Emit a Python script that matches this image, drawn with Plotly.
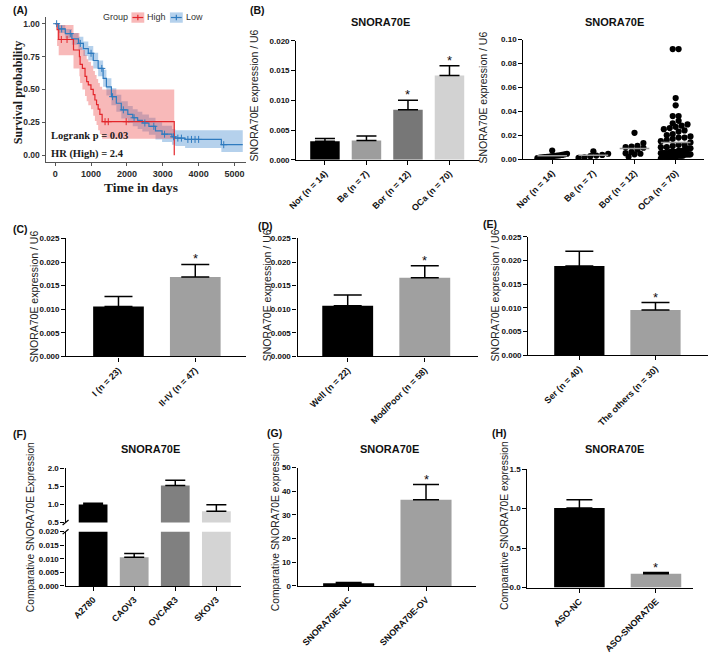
import plotly.graph_objects as go
import numpy as np

W, H = 709, 654
SANS = "Arial, Liberation Sans, Helvetica, sans-serif"
SERIF = "Times New Roman, Liberation Serif, serif"


def X(px):
    return px / W


def Y(py):
    return 1 - py / H


# ---------------- Panel A: Kaplan-Meier ----------------
high_t = [0, 52, 97, 510, 675, 694, 758, 832, 878, 923, 997, 1061, 1107, 1153, 1198, 1245, 1309, 3320]
high_s = [1.0, 0.955, 0.88, 0.80, 0.75, 0.69, 0.66, 0.60, 0.56, 0.535, 0.50, 0.46, 0.42, 0.385, 0.35, 0.31, 0.255, 0.0]
high_up = [1.0, 1.0, 0.99, 0.93, 0.88, 0.82, 0.80, 0.76, 0.73, 0.71, 0.68, 0.64, 0.61, 0.58, 0.55, 0.52, 0.50, 0.50]
high_lo = [1.0, 0.83, 0.76, 0.66, 0.60, 0.55, 0.50, 0.45, 0.41, 0.38, 0.35, 0.30, 0.26, 0.23, 0.19, 0.16, 0.125, 0.125]
high_cens_t = [170, 330, 1390, 1480, 1980]

low_t = [0, 97, 281, 465, 648, 785, 923, 1061, 1198, 1336, 1428, 1567, 1705, 1843, 2025, 2163, 2300, 2430,
         2614, 2797, 2981, 3256, 3348, 3623, 4634, 5231]
low_s = [1.0, 0.96, 0.925, 0.885, 0.85, 0.81, 0.775, 0.72, 0.66, 0.585, 0.52, 0.445, 0.395, 0.345, 0.31, 0.285,
         0.265, 0.245, 0.22, 0.185, 0.16, 0.14, 0.13, 0.12, 0.08, 0.08]
low_up = [1.0, 0.99, 0.96, 0.93, 0.90, 0.865, 0.83, 0.78, 0.72, 0.65, 0.585, 0.51, 0.46, 0.41, 0.375, 0.35, 0.33,
          0.31, 0.285, 0.25, 0.225, 0.20, 0.19, 0.19, 0.19, 0.19]
low_lo = [1.0, 0.93, 0.89, 0.84, 0.80, 0.755, 0.72, 0.66, 0.60, 0.52, 0.455, 0.38, 0.33, 0.28, 0.245, 0.22, 0.20,
          0.18, 0.155, 0.12, 0.10, 0.08, 0.07, 0.055, 0.025, 0.025]
low_cens_t = [40, 180, 420, 700, 1000, 1300, 1600, 1900, 2200, 2500, 2750, 3050, 3300, 3420, 3520, 3700, 3800,
              3900, 4000, 4700]

km_xticks = [0, 1000, 2000, 3000, 4000, 5000]
km_yticks = [0.0, 0.25, 0.5, 0.75, 1.0]
km_yticktext = ["0.00", "0.25", "0.50", "0.75", "1.00"]

# ---------------- Panel B ----------------
b_cats = ["Nor (n = 14)", "Be (n = 7)", "Bor (n = 12)", "OCa (n = 70)"]
b_mean = [0.00314, 0.00325, 0.00843, 0.01416]
b_errtop = [0.00358, 0.0040, 0.01003, 0.01581]
b_sig = [False, False, True, True]
b_colors = ["#000000", "#9d9d9d", "#777777", "#d2d2d2"]

nor_vals = [0.0072, 0.0045, 0.0040, 0.0035, 0.0032, 0.0030, 0.0028, 0.0025, 0.0022, 0.0020, 0.0018, 0.0015,
            0.0012, 0.0008]
be_vals = [0.0065, 0.0045, 0.0035, 0.0030, 0.0025, 0.0015, 0.0010]
bor_vals = [0.0220, 0.0135, 0.0110, 0.0105, 0.0100, 0.0095, 0.0080, 0.0060, 0.0050, 0.0045, 0.0040, 0.0020]
oca_vals = [0.092, 0.092, 0.051, 0.045, 0.036, 0.036, 0.032, 0.030, 0.029, 0.028, 0.027, 0.026, 0.025, 0.024,
            0.023, 0.021, 0.020, 0.019, 0.018, 0.018, 0.017, 0.016, 0.015, 0.014,
            0.012, 0.012, 0.011, 0.010, 0.010, 0.009, 0.009, 0.008, 0.008, 0.007, 0.007, 0.007, 0.006, 0.006,
            0.006, 0.006, 0.005, 0.005, 0.005, 0.005, 0.005, 0.004, 0.004, 0.004, 0.004, 0.004, 0.004, 0.003,
            0.003, 0.003, 0.003, 0.003, 0.003, 0.002, 0.002, 0.002, 0.002, 0.002, 0.002, 0.0015, 0.0015, 0.001,
            0.001, 0.001, 0.0005, 0.0005]
scatter_groups = [nor_vals, be_vals, bor_vals, oca_vals]

# ---------------- Panel C / D / E ----------------
c_cats = ["I (n = 23)", "II-IV (n = 47)"]
c_mean = [0.01058, 0.01685]
c_errtop = [0.01267, 0.0195]
c_sig = [False, True]

d_cats = ["Well (n = 22)", "Mod/Poor (n = 58)"]
d_mean = [0.01072, 0.01664]
d_errtop = [0.01302, 0.01922]
d_sig = [False, True]

e_cats = ["Ser (n = 40)", "The others (n = 30)"]
e_mean = [0.01882, 0.00951]
e_errtop = [0.02194, 0.01111]
e_sig = [False, True]

two_colors = ["#000000", "#a0a0a0"]

# ---------------- Panel F / G / H ----------------
f_cats = ["A2780", "CAOV3", "OVCAR3", "SKOV3"]
f_mean = [1.0, 0.0106, 1.52, 0.81]
f_errtop = [1.03, 0.0119, 1.67, 0.99]
f_colors = ["#000000", "#a6a6a6", "#808080", "#d4d4d4"]

g_cats = ["SNORA70E-NC", "SNORA70E-OV"]
g_mean = [1.1, 36.4]
g_errtop = [1.4, 42.8]
g_sig = [False, True]

h_cats = ["ASO-NC", "ASO-SNORA70E"]
h_mean = [1.008, 0.175]
h_errtop = [1.1125, 0.19]
h_sig = [False, True]


# ---------------- helpers ----------------
def step_at(ts, ss, t):
    idx = 0
    for i, tt in enumerate(ts):
        if tt <= t:
            idx = i
    return ss[idx]


def gp_x(dom, rng, cats, anchor):
    return dict(domain=[X(dom[0]), X(dom[1])], range=rng, tickmode="array",
                tickvals=list(range(len(cats))), ticktext=cats, tickangle=-45,
                showline=True, linecolor="black", linewidth=1.3, ticks="outside", ticklen=4,
                tickwidth=1.2, tickcolor="black", showgrid=False, zeroline=False,
                tickfont=dict(family=SANS, size=9, color="#111", weight="bold"), anchor=anchor)


def gp_y(dom, rng, tickvals, fmt, anchor):
    return dict(domain=[Y(dom[1]), Y(dom[0])], range=rng, tickmode="array", tickvals=tickvals,
                tickformat=fmt, showline=True, linecolor="black", linewidth=1.3, ticks="outside",
                ticklen=4, tickwidth=1.2, tickcolor="black", showgrid=False, zeroline=False,
                tickfont=dict(family=SANS, size=8, color="#111", weight="bold"), anchor=anchor)


def bars(cats, vals, tops, colors, width, xa, ya, cap):
    return go.Bar(x=list(range(len(cats))), y=vals, width=width, marker=dict(color=colors, line=dict(width=0)),
                  error_y=dict(type="data", symmetric=False, array=[t - v for t, v in zip(tops, vals)],
                               arrayminus=[0] * len(vals), color="black", thickness=1.5, width=cap),
                  xaxis=xa, yaxis=ya, hoverinfo="skip")


annotations = []
shapes = []


def stars(sig, tops, xa, ya):
    for i, (s, t) in enumerate(zip(sig, tops)):
        if s:
            annotations.append(dict(x=i, y=t, xref=xa, yref=ya, text="*", showarrow=False, yanchor="bottom",
                                    yshift=-4, font=dict(family=SANS, size=13, color="#111")))


def txt(px, py, text, size, bold=False, family=SANS, angle=0, xanchor="center", color="#111"):
    annotations.append(dict(x=X(px), y=Y(py), xref="paper", yref="paper", text=text, showarrow=False,
                            xanchor=xanchor, yanchor="middle", textangle=angle,
                            font=dict(family=family, size=size, color=color,
                                      weight="bold" if bold else "normal")))


fig = go.Figure()

# ---- Panel A traces
RED, BLUE = "#e3262b", "#2f7bbf"
PINK, LBLUE = "rgba(238,80,80,0.40)", "rgba(60,135,205,0.38)"
fig.add_trace(go.Scatter(x=low_t, y=low_lo, mode="lines", line=dict(width=0, shape="hv"), xaxis="x", yaxis="y",
                         hoverinfo="skip"))
fig.add_trace(go.Scatter(x=low_t, y=low_up, mode="lines", line=dict(width=0, shape="hv"), fill="tonexty",
                         fillcolor=LBLUE, xaxis="x", yaxis="y", hoverinfo="skip"))
fig.add_trace(go.Scatter(x=high_t, y=high_lo, mode="lines", line=dict(width=0, shape="hv"),
                         xaxis="x", yaxis="y", hoverinfo="skip"))
fig.add_trace(go.Scatter(x=high_t, y=high_up, mode="lines", line=dict(width=0, shape="hv"), fill="tonexty",
                         fillcolor=PINK, xaxis="x", yaxis="y", hoverinfo="skip"))
fig.add_trace(go.Scatter(x=low_t, y=low_s, mode="lines", line=dict(color=BLUE, width=1.2, shape="hv"),
                         xaxis="x", yaxis="y", hoverinfo="skip"))
fig.add_trace(go.Scatter(x=high_t, y=high_s, mode="lines", line=dict(color=RED, width=1.2, shape="hv"),
                         xaxis="x", yaxis="y", hoverinfo="skip"))
fig.add_trace(go.Scatter(x=low_cens_t, y=[step_at(low_t, low_s, t) for t in low_cens_t], mode="markers",
                         marker=dict(symbol="cross-thin", size=5, line=dict(color=BLUE, width=1)),
                         xaxis="x", yaxis="y", hoverinfo="skip"))
fig.add_trace(go.Scatter(x=high_cens_t, y=[step_at(high_t, high_s, t) for t in high_cens_t], mode="markers",
                         marker=dict(symbol="cross-thin", size=5, line=dict(color=RED, width=1)),
                         xaxis="x", yaxis="y", hoverinfo="skip"))

# ---- Panel B left
fig.add_trace(bars(b_cats, b_mean, b_errtop, b_colors, 0.71, "x2", "y2", 10))
stars(b_sig, b_errtop, "x2", "y2")

# ---- Panel B right (swarm)
B2_UNIT_PX = 41.7
B2_Y_PX = 121.3 / 0.10
dot_px = 6.0
for gi, vals in enumerate(scatter_groups):
    vals = np.array(sorted(vals))
    bins = np.floor(vals * B2_Y_PX / dot_px).astype(int)
    xs = np.zeros(len(vals))
    for b in np.unique(bins):
        idx = np.where(bins == b)[0]
        k = len(idx)
        step = dot_px if k <= 1 else min(dot_px, 30.0 / (k - 1))
        offs = (np.arange(k) - (k - 1) / 2) * step / B2_UNIT_PX
        xs[idx] = gi + offs
    fig.add_trace(go.Scatter(x=xs, y=vals, mode="markers", marker=dict(color="black", size=6.2),
                             xaxis="x3", yaxis="y3", hoverinfo="skip"))
for gi, vals in enumerate(scatter_groups):
    m = float(np.mean(vals))
    fig.add_trace(go.Scatter(x=[gi - 0.36, gi + 0.36], y=[m, m], mode="lines",
                             line=dict(color="#9a9a9a", width=1.5), xaxis="x3", yaxis="y3", hoverinfo="skip"))

# ---- Panel C, D, E
fig.add_trace(bars(c_cats, c_mean, c_errtop, two_colors, 0.66, "x4", "y4", 14))
stars(c_sig, c_errtop, "x4", "y4")
fig.add_trace(bars(d_cats, d_mean, d_errtop, two_colors, 0.66, "x5", "y5", 14))
stars(d_sig, d_errtop, "x5", "y5")
fig.add_trace(bars(e_cats, e_mean, e_errtop, two_colors, 0.66, "x6", "y6", 14))
stars(e_sig, e_errtop, "x6", "y6")

# ---- Panel F (broken axis)
fig.add_trace(bars(f_cats, f_mean, f_errtop, f_colors, 0.70, "x7", "y7", 10))
fig.add_trace(bars(f_cats, f_mean, f_errtop, f_colors, 0.70, "x7", "y8", 10))

# ---- Panel G, H
fig.add_trace(bars(g_cats, g_mean, g_errtop, two_colors, 0.66, "x8", "y9", 13))
stars(g_sig, g_errtop, "x8", "y9")
fig.add_trace(bars(h_cats, h_mean, h_errtop, two_colors, 0.66, "x9", "y10", 13))
stars(h_sig, h_errtop, "x9", "y10")

# ---------------- layout ----------------
A_X, A_Y = (37, 240), (13.3, 160)
layout = dict(
    width=W, height=H, margin=dict(l=0, r=0, t=0, b=0), paper_bgcolor="white", plot_bgcolor="white",
    showlegend=False, barmode="overlay",
    xaxis=dict(domain=[X(A_X[0]), X(A_X[1])], range=[-270, 5320], tickvals=km_xticks, showline=True,
               linecolor="#555", linewidth=1, ticks="outside", ticklen=3, tickcolor="#555", showgrid=False,
               zeroline=False, tickfont=dict(family=SANS, size=9, color="#2a2a2a", weight="bold"), anchor="y"),
    yaxis=dict(domain=[Y(A_Y[1]), Y(A_Y[0])], range=[-0.05, 1.05], tickvals=km_yticks, ticktext=km_yticktext,
               showline=True, linecolor="#555", linewidth=1, ticks="outside", ticklen=3, tickcolor="#555",
               showgrid=False, zeroline=False,
               tickfont=dict(family=SANS, size=8.5, color="#2a2a2a", weight="bold"), anchor="x"),
    xaxis2=gp_x((291, 476), [-0.69, 3.71], b_cats, "y2"),
    yaxis2=gp_y((37.3, 158), [0, 0.02], [0, 0.005, 0.01, 0.015, 0.02], ".3f", "x2"),
    xaxis3=gp_x((521, 704), [-0.70, 3.69], b_cats, "y3"),
    yaxis3=gp_y((36, 157.3), [0, 0.10], [0, 0.02, 0.04, 0.06, 0.08, 0.10], ".2f", "x3"),
    xaxis4=gp_x((58, 240), [-0.68, 1.66], c_cats, "y4"),
    yaxis4=gp_y((237.7, 357.3), [0, 0.025], [0, 0.005, 0.01, 0.015, 0.02, 0.025], ".3f", "x4"),
    xaxis5=gp_x((292.3, 475), [-0.65, 1.69], d_cats, "y5"),
    yaxis5=gp_y((237.7, 357.3), [0, 0.025], [0, 0.005, 0.01, 0.015, 0.02, 0.025], ".3f", "x5"),
    xaxis6=gp_x((526, 708), [-0.67, 1.69], e_cats, "y6"),
    yaxis6=gp_y((236, 356), [0, 0.025], [0, 0.005, 0.01, 0.015, 0.02, 0.025], ".3f", "x6"),
    xaxis7=gp_x((57.3, 235), [-0.67, 3.6], f_cats, "y7"),
    yaxis7=gp_y((535, 590), [0, 0.02], [0, 0.005, 0.01, 0.015, 0.02], ".3f", "x7"),
    yaxis8=gp_y((470.7, 525.7), [0.5, 2.0], [0.5, 1.0, 1.5, 2.0], ".1f", "x7"),
    xaxis8=gp_x((292.3, 473.3), [-0.66, 1.65], g_cats, "y9"),
    yaxis9=gp_y((470, 590), [0, 50], [0, 10, 20, 30, 40, 50], "d", "x8"),
    xaxis9=gp_x((525, 693.3), [-0.68, 1.49], h_cats, "y10"),
    yaxis10=gp_y((471.7, 591.7), [0, 1.5], [0, 0.5, 1.0, 1.5], ".1f", "x9"),
)

# break marks on panel F y-axis
for py in (525.7, 535):
    shapes.append(dict(type="line", xref="paper", yref="paper", x0=X(57.3 - 3), y0=Y(py + 2.5),
                       x1=X(57.3 + 3), y1=Y(py - 2.5), line=dict(color="black", width=1.2)))

# Panel A legend (decoration)
txt(107.5, 13.5, "Group", 9, color="#333")
for (bx, fillc, linec, label, lx) in [(124, PINK, RED, "High", 149), (163, LBLUE, BLUE, "Low", 187.5)]:
    shapes.append(dict(type="rect", xref="paper", yref="paper", x0=X(bx), x1=X(bx + 13), y0=Y(19), y1=Y(8.5),
                       fillcolor=fillc, line=dict(width=0)))
    shapes.append(dict(type="line", xref="paper", yref="paper", x0=X(bx + 1), x1=X(bx + 12), y0=Y(13.7),
                       y1=Y(13.7), line=dict(color=linec, width=1.2)))
    shapes.append(dict(type="line", xref="paper", yref="paper", x0=X(bx + 6.5), x1=X(bx + 6.5), y0=Y(11),
                       y1=Y(16.5), line=dict(color=linec, width=1.2)))
    txt(lx, 13.5, label, 9, color="#333")

# Panel A texts
txt(9, 89.5, "Survival probability", 12, bold=True, family=SERIF, angle=-90, color="#1a1a1a")
txt(133.5, 186, "Time in days", 13.5, bold=True, family=SERIF, color="#1a1a1a")
txt(40.5, 133, "Logrank p = 0.03", 10.5, bold=True, family=SERIF, xanchor="left", color="#1a1a1a")
txt(40.5, 152, "HR (High) = 2.4", 10.5, bold=True, family=SERIF, xanchor="left", color="#1a1a1a")

# Panel labels
for lab, px, py in [("(A)", 2, 6), ("(B)", 242, 6), ("(C)", 2, 228), ("(D)", 250, 225), ("(E)", 478, 223.5),
                    ("(F)", 2, 436), ("(G)", 259, 435), ("(H)", 487, 435)]:
    txt(px, py, lab, 10.5, bold=True, xanchor="left", color="#111")

# Titles
for px, py in [(376.7, 18), (613.3, 18), (143.3, 451.7), (385, 451.7), (613.3, 451.7)]:
    txt(px, py, "SNORA70E", 11, bold=True, color="#111")

# Y-axis titles
for px, py, t, sz in [(248.3, 92.6, "SNORA70E expression / U6", 10.5), (480, 95, "SNORA70E expression / U6", 10.5),
                      (25, 297, "SNORA70E expression / U6", 10.5), (261.7, 295, "SNORA70E expression / U6", 10.5),
                      (491.7, 295, "SNORA70E expression / U6", 10.5),
                      (21.7, 530, "Comparative SNORA70E Expression", 10.3),
                      (270, 530, "Comparative SNORA70E expression", 10.3),
                      (501.7, 529, "Comparative SNORA70E expression", 10.3)]:
    txt(px, py, t, sz, angle=-90, color="#222")

layout["annotations"] = annotations
layout["shapes"] = shapes
fig.update_layout(**layout)
fig.write_html("out.html", config={"displayModeBar": False},
               post_script="document.body.style.margin='0px';")
